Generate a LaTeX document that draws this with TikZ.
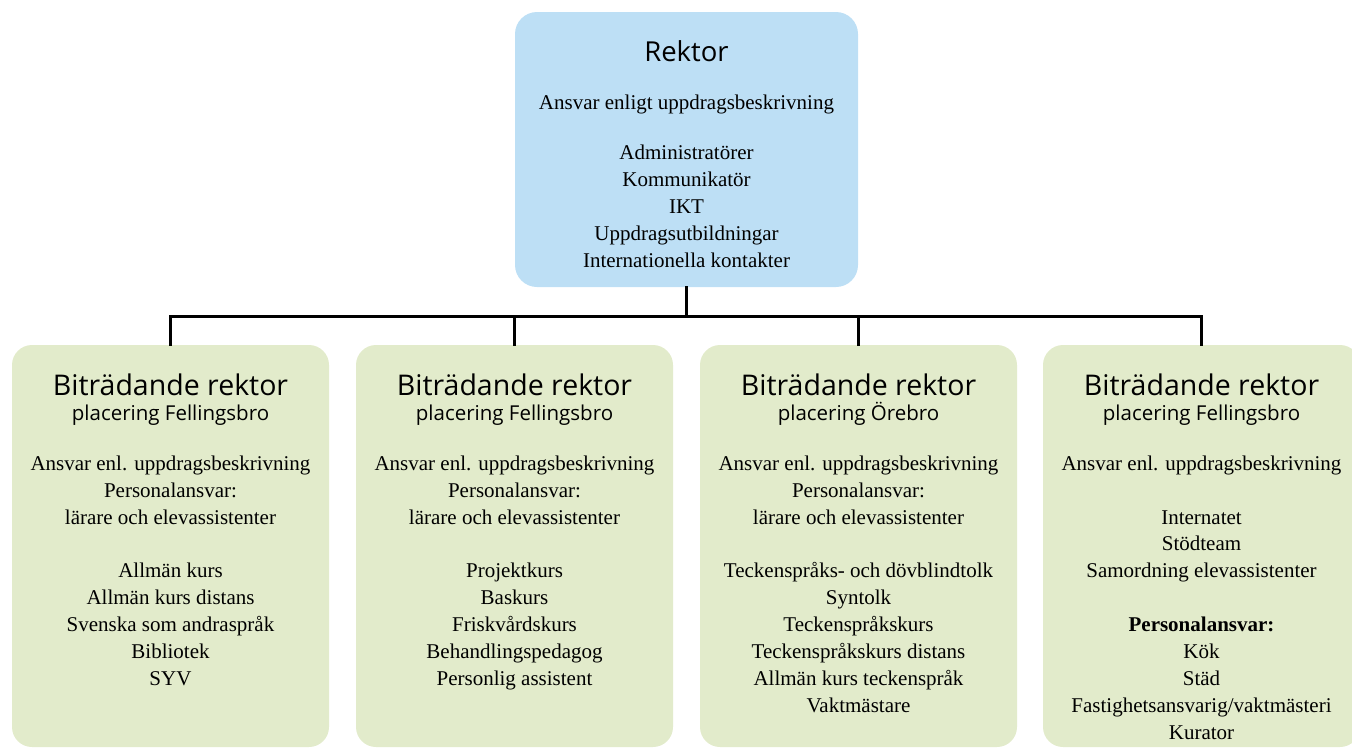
\documentclass[tikz,border=0pt]{standalone}
\usepackage{fontspec}
\setmainfont{Liberation Serif}
\setsansfont{Open Sans}
\definecolor{rektorblue}{HTML}{BDDFF5}
\definecolor{deputygreen}{HTML}{E2EBCB}
\tikzset{
  chief/.style = {fill = rektorblue, rounded corners = 22pt, minimum width = 343pt, minimum height = 275pt, inner sep = 0pt},
  deputy/.style = {fill = deputygreen, rounded corners = 20pt, minimum width = 317pt, minimum height = 402pt, inner sep = 0pt},
  headline/.style = {anchor = base, inner sep = 0pt, font = \sffamily\fontsize{28.5}{32}\selectfont},
  placeline/.style = {anchor = base, inner sep = 0pt, font = \sffamily\fontsize{20.5}{24}\selectfont},
  duties/.style = {anchor = north, inner sep = 0pt, align = center, font = \fontsize{21}{26.9}\selectfont},
  link/.style = {line width = 3pt, line cap = rect}
}
\begin{document}
\begin{tikzpicture}[x = 1pt, y = -1pt]
\useasboundingbox (0,0) rectangle (1352,748);
\clip (0,0) rectangle (1352,748);
% rektor
\node[chief] (rektor) at (686.5,149.5) {};
\node[headline, font = \sffamily\fontsize{27.5}{32}\selectfont] (rektortitle) at (686.5,61) {Rektor};
\node[duties] (rektortext) at (686.5,95) {Ansvar enligt uppdragsbeskrivning\\[0pt]\rule{0pt}{22pt}\\[-4pt]
Administratörer\\Kommunikatör\\IKT\\Uppdragsutbildningar\\Internationella kontakter};
% deputies
\foreach \n/\x in {1/170.5, 2/514.5, 3/858.5, 4/1201.5} {
  \node[deputy] (dep\n) at (\x,546) {};
  \node[headline] (dep\n title) at (\x,395) {Biträdande rektor};
}
\node[placeline] (dep1place) at (170.5,420) {placering Fellingsbro};
\node[placeline] (dep2place) at (514.5,420) {placering Fellingsbro};
\node[placeline] (dep3place) at (858.5,420) {placering Örebro};
\node[placeline] (dep4place) at (1201.5,420) {placering Fellingsbro};
\node[duties] (dep1text) at (170.5,455.5) {Ansvar enl. uppdragsbeskrivning\\Personalansvar:\\lärare och elevassistenter\\~\\
Allmän kurs\\Allmän kurs distans\\Svenska som andraspråk\\Bibliotek\\SYV};
\node[duties] (dep2text) at (514.5,455.5) {Ansvar enl. uppdragsbeskrivning\\Personalansvar:\\lärare och elevassistenter\\~\\
Projektkurs\\Baskurs\\Friskvårdskurs\\Behandlingspedagog\\Personlig assistent};
\node[duties] (dep3text) at (858.5,455.5) {Ansvar enl. uppdragsbeskrivning\\Personalansvar:\\lärare och elevassistenter\\~\\
Teckenspråks- och dövblindtolk\\Syntolk\\Teckenspråkskurs\\Teckenspråkskurs distans\\Allmän kurs teckenspråk\\Vaktmästare};
\node[duties] (dep4text) at (1201.5,455.5) {Ansvar enl. uppdragsbeskrivning\\~\\Internatet\\Stödteam\\Samordning elevassistenter\\~\\
\textbf{Personalansvar:}\\Kök\\Städ\\Fastighetsansvarig/vaktmästeri\\Kurator};
% connectors
\coordinate (bus) at (686.5,316);
\draw[link] (rektor.south) -- (bus);
\draw[link] (bus) -| (dep1.north);
\draw[link] (bus) -| (dep2.north);
\draw[link] (bus) -| (dep3.north);
\draw[link] (bus) -| (dep4.north);
\end{tikzpicture}
\end{document}
